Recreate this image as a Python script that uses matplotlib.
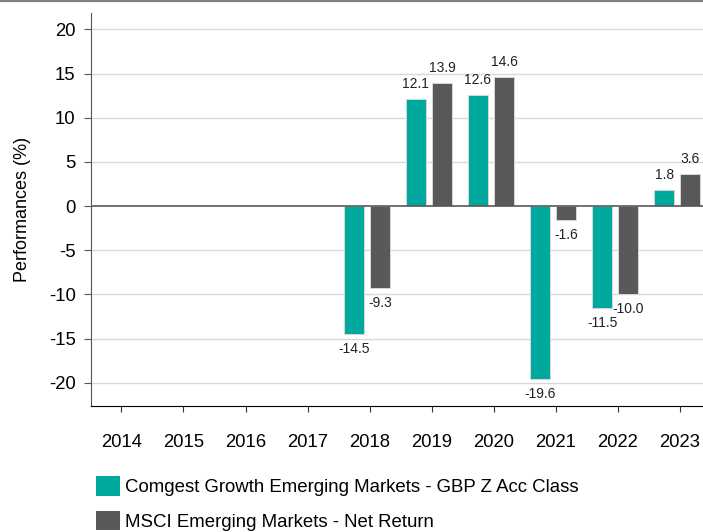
import numpy as np
import matplotlib
matplotlib.use("Agg")
import matplotlib.pyplot as plt
from matplotlib.patches import Patch
from matplotlib.lines import Line2D

plt.rcParams['font.family'] = ['Liberation Sans', 'DejaVu Sans']

# data
years = ['2014', '2015', '2016', '2017', '2018', '2019', '2020', '2021', '2022', '2023']
fund = [np.nan, np.nan, np.nan, np.nan, -14.5, 12.1, 12.6, -19.6, -11.5, 1.8]
index = [np.nan, np.nan, np.nan, np.nan, -9.3, 13.9, 14.6, -1.6, -10.0, 3.6]
series_names = ['Comgest Growth Emerging Markets - GBP Z Acc Class',
                'MSCI Emerging Markets - Net Return']
yticks = [-20, -15, -10, -5, 0, 5, 10, 15, 20]

teal = '#00A99D'
grey = '#595959'

fig = plt.figure(figsize=(7.03, 5.32), dpi=100)
ax = fig.add_axes([91/703, 126/532, 620/703, 393/532])

x = np.arange(len(years))
w = 0.33
b1 = ax.bar(x - 0.255, fund, w, color=teal, edgecolor='#d8d8d8', linewidth=0.7, zorder=3)
b2 = ax.bar(x + 0.165, index, w, color=grey, edgecolor='#d8d8d8', linewidth=0.7, zorder=3)

# valeurs au-dessus / en-dessous des barres
for bars, vals in [(b1, fund), (b2, index)]:
	for r, v in zip(bars, vals):
		if np.isnan(v):
			continue
		cx = r.get_x() + r.get_width() / 2
		off = 15 if v >= 0 else -15
		ax.annotate('%.1f' % v, (cx, v), xytext=(0, off), textcoords='offset pixels',
			ha='center', va='center', fontsize=10, color='#222222')

ax.set_xlim(-0.49, 9.5)
ax.set_ylim(-22.64, 21.85)
ax.set_yticks(yticks)
ax.set_yticklabels([str(t) for t in yticks])
ax.set_xticks(x)
ax.set_xticklabels(years)

for t in yticks:
	if t == 0:
		ax.axhline(0, color='#595959', lw=1.2, zorder=4)
	else:
		ax.axhline(t, color='#d9d9d9', lw=1.0, zorder=1)

ax.spines['top'].set_visible(False)
ax.spines['right'].set_visible(False)
ax.spines['left'].set_color('#555555')
ax.spines['bottom'].set_color('black')
ax.tick_params(axis='y', length=5, pad=6, labelsize=13.3, colors='#555555', labelcolor='black')
ax.tick_params(axis='x', length=4, pad=16, labelsize=13.3, color='#333333')

ax.set_ylabel('Performances (%)', fontsize=13)
ax.yaxis.set_label_coords(-60/620, 0.5)

handles = [Patch(facecolor=teal), Patch(facecolor=grey)]
fig.legend(handles, series_names, loc='upper left', bbox_to_anchor=(96/703, 1 - 476/532),
	frameon=False, fontsize=13.4, handlelength=1.29, handleheight=1.24,
	handletextpad=0.27, labelspacing=0.8, borderpad=0, borderaxespad=0)

# ligne grise tout en haut
fig.add_artist(Line2D([0, 1], [1 - 0.8/532, 1 - 0.8/532], color='#7f7f7f', lw=1.6,
	transform=fig.transFigure))

fig.savefig('out.png', dpi=100)
